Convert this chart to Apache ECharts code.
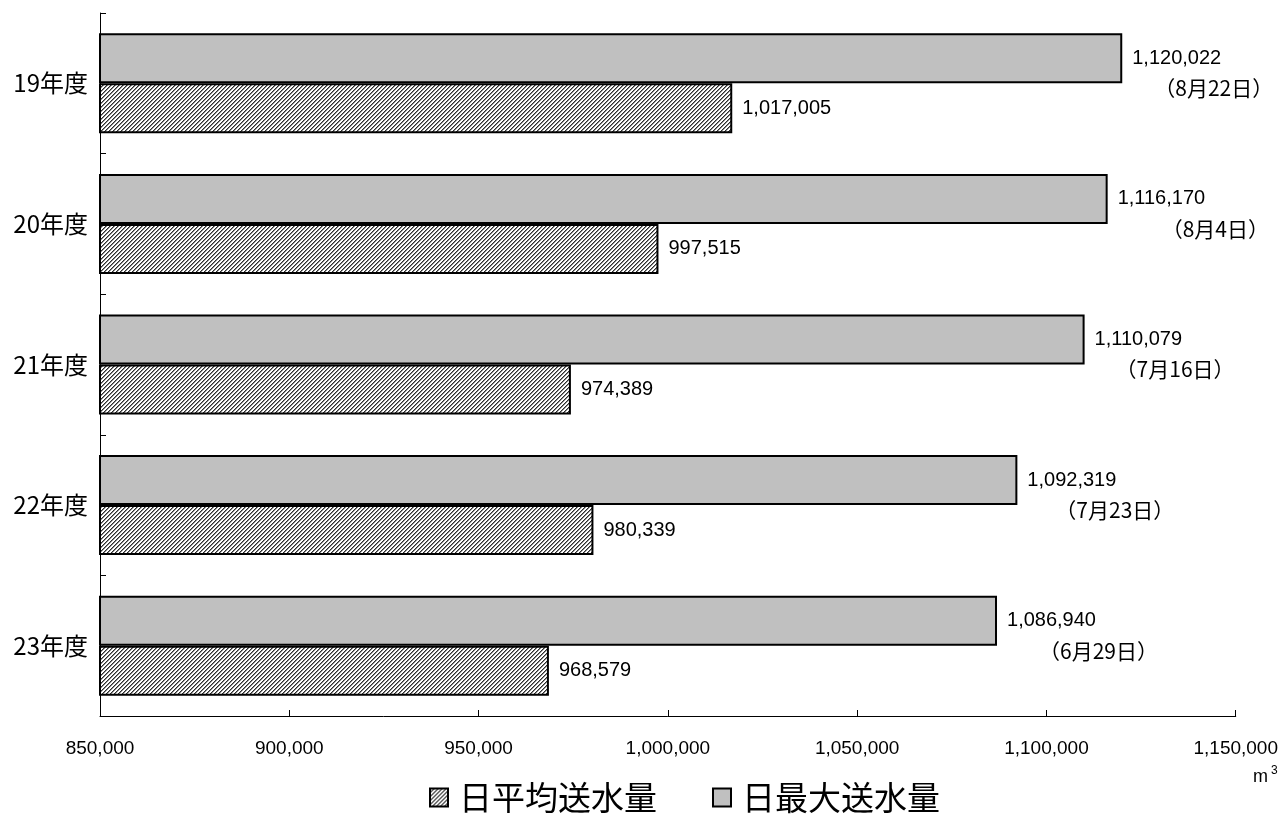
<!DOCTYPE html>
<html>
<head>
<meta charset="utf-8">
<script src="https://cdn.jsdelivr.net/npm/echarts@6/dist/echarts.min.js"></script>
<style>html,body{margin:0;padding:0;background:#fff;}#c{width:1281px;height:816px;}</style>
</head>
<body>
<div id="c"></div>
<script>
const categories = ['19年度', '20年度', '21年度', '22年度', '23年度'];
const avgValues = [1017005, 997515, 974389, 980339, 968579];
const maxValues = [1120022, 1116170, 1110079, 1092319, 1086940];
const maxDates = ['8月22日', '8月4日', '7月16日', '7月23日', '6月29日'];
const xTicks = { min: 850000, max: 1150000, interval: 50000 };
const seriesNames = ['日平均送水量', '日最大送水量'];
// label indent (style only) for the date line
const dateIndent = [22, 44, 21, 28, 32];

function fmt(v) { return Number(v).toLocaleString('en-US'); }

// hatch pattern
const pc = document.createElement('canvas');
pc.width = 4; pc.height = 4;
const g = pc.getContext('2d');
g.fillStyle = '#ffffff'; g.fillRect(0, 0, 4, 4);
for (let i = 0; i < 4; i++) {
  g.fillStyle = '#2e2e2e';
  g.fillRect((3 - i + 4) % 4, i, 1, 1);
  g.fillStyle = '#8a8a8a';
  g.fillRect((4 - i + 4) % 4, i, 1, 1);
}
const hatch = { image: pc, repeat: 'repeat' };

const numFont = '"Liberation Sans", Arial, "Noto Sans CJK JP", sans-serif';
const cjkFont = '"Noto Sans CJK JP", "Liberation Sans", sans-serif';

const chart = echarts.init(document.getElementById('c'), null, { renderer: 'canvas' });
chart.setOption({
  animation: false,
  backgroundColor: '#fff',
  grid: { left: 100, right: 43, top: 13, bottom: 100, containLabel: false },
  legend: {
    data: seriesNames,
    left: 424, top: 776,
    itemWidth: 18, itemHeight: 18, itemGap: 55,
    icon: 'rect',
    textStyle: { fontSize: 33, color: '#000', fontFamily: cjkFont, padding: [0, 0, 0, 6] }
  },
  xAxis: {
    type: 'value',
    min: xTicks.min, max: xTicks.max, interval: xTicks.interval,
    axisLine: { show: true, lineStyle: { color: '#000', width: 1 } },
    axisTick: { show: true, inside: true, length: 6, lineStyle: { color: '#000' } },
    splitLine: { show: false },
    axisLabel: { color: '#000', fontSize: 19, fontFamily: numFont, margin: 23, formatter: fmt }
  },
  yAxis: {
    type: 'category',
    inverse: true,
    data: categories,
    axisLine: { show: true, lineStyle: { color: '#000', width: 1 } },
    axisTick: { show: true, inside: true, length: 6, alignWithLabel: false, lineStyle: { color: '#000' } },
    axisLabel: { color: '#000', fontSize: 24, fontFamily: cjkFont, margin: 12 }
  },
  series: [
    {
      name: seriesNames[1],
      type: 'bar',
      barWidth: 50,
      barGap: '0%',
      itemStyle: { color: '#c0c0c0', borderColor: '#000', borderWidth: 2 },
      data: maxValues.map((v, i) => ({
        value: v,
        label: {
          show: true,
          position: 'right',
          distance: 10,
          offset: [0, 15],
          formatter: '{v|' + fmt(v) + '}\n{d|（' + maxDates[i] + '）}',
          rich: {
            v: { fontSize: 20, fontFamily: numFont, color: '#000', lineHeight: 30 },
            d: { fontSize: 21, fontFamily: cjkFont, color: '#000', lineHeight: 30, padding: [0, 0, 0, dateIndent[i]] }
          }
        }
      }))
    },
    {
      name: seriesNames[0],
      type: 'bar',
      barWidth: 50,
      barGap: '0%',
      itemStyle: { color: hatch, borderColor: '#000', borderWidth: 2 },
      label: {
        show: true, position: 'right', distance: 10,
        fontSize: 20, fontFamily: numFont, color: '#000',
        formatter: p => fmt(p.value)
      },
      data: avgValues
    }
  ],
  graphic: [
    { type: 'text', left: 1253, top: 768, style: { text: 'm', fontSize: 18, fontFamily: numFont, fill: '#000' } },
    { type: 'text', left: 1271, top: 765, style: { text: '3', fontSize: 12, fontFamily: numFont, fill: '#000' } }
  ]
});
</script>
</body>
</html>
